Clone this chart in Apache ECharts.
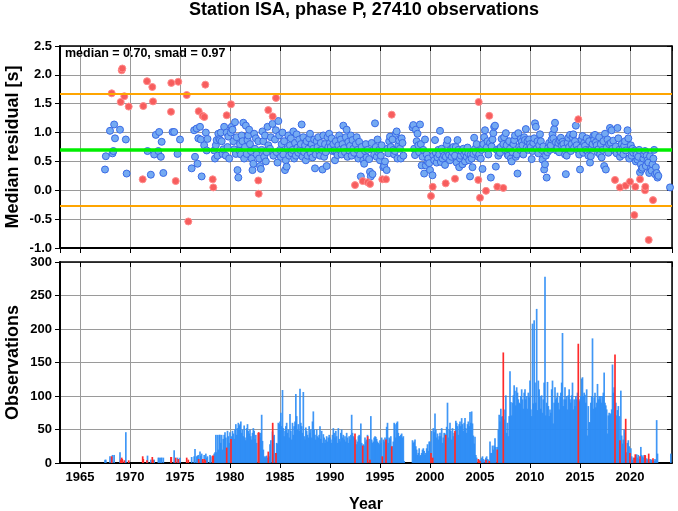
<!DOCTYPE html>
<html><head><meta charset="utf-8">
<script src="https://cdn.jsdelivr.net/npm/echarts@6/dist/echarts.min.js"></script>
<style>html,body{margin:0;padding:0;background:#fff}#c{width:678px;height:511px}</style>
</head><body><div id="c"></div>
<script>
const _ = null;
const titleText = 'Station ISA, phase P, 27410 observations';
const statsText = 'median = 0.70, smad = 0.97';
const medianValue = 0.70;
const smadValue = 0.97;
const firstYear = 1967;
const xMin = 1963, xMax = 2024.2;

// monthly median residuals (blue points), one row per year starting 1967
const residualRows = [
 [_,_,_,_,_,_,0.36,0.59,_,_,_,_],
 [1.03,_,_,0.64,0.68,1.14,0.90,_,_,_,_,_],
 [1.05,_,_,_,_,_,_,0.88,0.29,_,_,_],
 [_,_,_,_,_,_,_,_,_,_,_,_],
 [_,_,_,_,_,_,_,_,_,0.68,_,_],
 [_,0.27,_,_,_,0.62,_,0.96,_,_,0.68,1.01],
 [_,0.58,0.84,_,0.30,_,_,_,_,_,_,_],
 [_,_,_,1.01,_,1.01,_,_,_,0.63,_,_],
 [0.88,_,_,_,_,_,_,_,_,_,_,_],
 [_,_,0.38,_,_,1.04,0.58,_,1.07,0.46,0.90,_],
 [1.10,0.88,0.24,_,_,0.78,_,1.00,0.69,0.89,_,_],
 [_,_,_,_,_,0.69,0.55,0.78,0.87,0.60,0.98,0.89],
 [0.87,1.00,0.85,0.63,0.71,1.10,_,0.60,1.00,0.75,0.93,0.55],
 [_,1.00,1.10,1.05,0.85,0.71,1.18,0.63,0.92,0.35,0.22,0.69],
 [0.80,0.62,0.95,0.85,1.17,0.55,0.75,1.12,0.63,0.87,0.95,1.05],
 [0.80,0.68,0.55,0.35,0.46,0.98,0.72,0.90,0.62,_,0.85,0.55],
 [0.42,0.37,0.70,1.02,0.85,0.58,0.95,0.50,0.66,1.10,0.78,_],
 [0.72,0.92,_,1.15,0.60,_,0.88,1.04,0.66,0.48,1.20,0.95],
 [0.70,0.58,0.80,1.00,0.62,0.85,0.35,0.52,0.41,0.72,0.95,0.60],
 [0.78,0.90,0.64,0.70,1.02,0.55,0.82,0.60,0.97,0.74,0.65,0.88],
 [0.70,0.80,1.14,0.58,0.92,0.66,0.78,0.52,0.85,0.60,0.72,0.90],
 [0.98,0.64,0.80,0.57,0.72,0.88,0.38,0.62,0.85,0.75,0.92,0.68],
 [0.60,0.82,0.70,0.36,0.95,0.58,0.80,0.66,0.42,0.92,0.75,0.98],
 [0.82,0.75,0.90,0.68,0.80,0.69,0.52,0.85,0.65,0.61,0.78,0.95],
 [0.70,0.88,0.62,0.80,1.12,0.73,0.66,0.92,1.05,0.58,0.84,0.69],
 [0.77,0.95,0.60,0.87,0.72,0.65,_,0.80,0.92,0.70,0.55,0.84],
 [0.62,0.24,0.75,_,0.52,0.46,0.68,0.80,0.57,0.70,_,0.54],
 [0.32,0.24,0.82,0.28,0.70,0.62,1.16,0.75,0.58,0.88,0.66,0.70],
 [0.52,0.60,0.78,_,0.40,0.42,0.50,_,0.35,0.72,0.64,0.85],
 [0.93,0.75,_,0.88,0.70,0.62,0.68,0.98,1.02,0.55,0.78,0.86],
 [0.72,0.55,0.90,0.82,0.60,_,_,_,_,_,_,_],
 [_,_,_,1.09,1.13,0.72,0.61,1.05,0.85,0.98,0.78,0.66],
 [1.14,0.80,0.43,0.58,0.70,0.29,0.88,0.43,0.62,0.50,0.55,0.47],
 [0.35,_,_,0.26,0.60,0.52,0.87,0.65,0.48,0.57,0.70,0.62],
 [1.03,0.49,0.72,0.55,0.66,0.60,0.44,0.58,0.80,0.87,0.65,0.61],
 [0.52,0.70,0.58,0.66,0.75,_,0.60,0.75,0.48,0.87,0.70,0.40],
 [0.55,0.60,0.68,0.45,0.72,0.62,0.50,0.66,0.58,0.74,0.64,0.52],
 [0.24,0.62,0.55,0.40,0.63,0.91,0.72,0.66,0.80,_,0.58,0.62],
 [_,0.55,0.70,0.37,0.80,0.92,1.04,_,0.74,0.85,0.62,_],
 [0.82,0.22,0.76,0.88,0.99,1.10,1.12,0.41,0.70,_,0.60,0.72],
 [0.65,0.75,0.89,_,0.80,0.92,0.70,0.99,0.78,0.62,0.60,0.85],
 [0.72,0.55,0.50,0.66,0.80,0.87,0.95,0.58,0.62,0.29,0.99,0.75],
 [0.70,0.89,0.84,0.78,0.62,0.92,0.87,1.06,0.74,0.85,0.70,0.88],
 [0.80,0.75,0.54,0.68,0.82,0.90,1.16,1.10,0.72,0.85,0.64,0.78],
 [0.97,0.85,0.70,0.53,0.76,0.36,0.45,0.60,0.22,0.66,0.74,0.82],
 [0.70,0.78,0.88,0.97,0.90,1.06,1.17,0.83,0.69,0.75,0.82,0.66],
 [0.86,0.91,0.78,0.84,0.80,0.72,0.62,0.28,0.60,0.82,0.91,0.75],
 [0.96,0.68,0.80,0.92,0.97,0.74,0.85,1.12,0.78,0.70,_,0.62],
 [0.36,0.74,0.88,0.94,0.65,0.82,0.77,0.70,0.90,0.68,0.60,0.85],
 [0.48,0.59,0.72,0.80,0.94,0.88,0.96,0.83,0.78,0.66,0.71,0.92],
 [0.62,0.80,0.57,0.70,0.85,0.42,0.98,0.36,0.74,0.88,0.65,0.80],
 [1.08,0.82,1.04,0.72,0.86,_,0.68,0.76,0.64,1.08,0.90,0.70],
 [0.58,0.66,0.80,0.72,0.62,0.77,0.85,0.69,_,1.04,0.90,0.55],
 [_,0.78,0.60,0.72,0.65,_,0.69,0.50,0.62,0.53,0.58,0.70],
 [0.31,0.45,0.36,0.39,0.55,0.62,0.68,0.42,0.60,0.52,0.48,0.30],
 [0.59,0.38,0.34,0.45,0.55,0.70,0.28,0.40,0.30,0.22,0.25,_],
 [_,_,_,_,_,_,_,_,_,_,_,_],
 [0.05,_,_,_,_,_,_,_,_,_,_,_]
];

// monthly observation counts (blue bars), one row per year starting 1967
const countRows = [
 [0,0,0,0,0,0,5,5,0,0,0,0],
 [10,0,0,12,0,12,0,0,0,0,0,0],
 [16,0,0,0,0,0,0,46,0,0,0,0],
 [0,0,0,0,0,0,0,0,0,0,0,0],
 [0,0,0,0,0,0,0,0,0,11,0,0],
 [0,5,0,0,0,5,0,0,0,0,8,8],
 [0,8,8,0,8,0,0,0,0,0,0,0],
 [0,0,0,0,0,19,0,0,0,8,0,0],
 [8,0,0,0,0,0,0,0,0,0,0,0],
 [0,0,9,0,0,10,21,0,10,11,12,0],
 [17,11,14,0,0,12,0,14,8,10,0,0],
 [12,10,0,0,0,14,16,42,16,42,20,42],
 [42,30,42,20,36,42,46,38,0,48,40,30],
 [46,0,40,48,44,36,50,58,42,52,60,56],
 [58,62,45,50,40,56,38,34,52,58,48,44],
 [50,40,35,45,52,48,36,42,30,0,0,45],
 [38,45,72,33,20,10,8,10,11,8,0,10],
 [28,34,0,47,40,42,0,15,30,29,60,58],
 [62,75,55,109,52,40,48,55,60,45,50,38],
 [73,48,35,60,42,55,62,103,70,50,58,48],
 [111,60,55,45,106,40,35,53,48,42,38,55],
 [45,50,38,62,77,50,42,35,50,40,38,42],
 [55,36,48,30,43,38,30,35,40,32,38,42],
 [38,35,30,42,52,45,38,48,40,30,52,36],
 [32,45,50,38,42,35,40,32,45,38,30,40],
 [35,42,72,45,40,38,0,35,28,32,40,42],
 [40,59,30,0,28,26,38,32,35,42,0,36],
 [0,70,35,30,32,38,40,39,36,32,30,28],
 [34,30,38,0,35,32,38,0,54,60,30,38],
 [36,40,0,25,32,60,58,38,60,62,45,40],
 [40,42,44,38,40,3,0,0,0,0,0,0],
 [0,0,0,34,30,32,35,25,20,12,15,22],
 [10,12,15,20,22,18,12,15,22,28,18,32],
 [32,0,48,0,52,46,74,50,38,44,35,40],
 [45,40,52,30,38,45,44,0,54,90,38,50],
 [60,48,35,52,40,45,0,63,60,55,42,58],
 [62,55,67,58,48,60,67,52,45,58,62,55],
 [76,60,77,59,41,29,39,12,8,0,0,5],
 [0,5,8,10,6,0,5,8,10,6,5,0],
 [32,15,15,26,20,26,37,24,0,24,50,72],
 [62,81,69,70,0,65,80,101,45,60,40,70],
 [137,91,71,90,101,116,108,86,113,105,95,90],
 [88,100,110,95,81,105,110,95,100,81,105,98],
 [123,80,70,208,89,213,120,90,230,79,123,110],
 [100,81,101,75,95,120,278,71,90,121,85,70],
 [80,75,110,123,59,90,113,95,98,105,90,80],
 [100,105,120,194,85,95,113,95,100,80,101,110],
 [95,90,101,120,80,95,85,100,95,105,0,92],
 [95,100,126,128,100,105,102,90,110,41,85,61],
 [61,90,100,186,81,98,105,83,90,118,95,100],
 [95,100,90,100,105,135,90,86,80,44,71,75],
 [71,74,80,147,105,113,0,90,71,79,85,70],
 [0,108,41,29,35,50,45,0,16,30,34,25],
 [0,22,10,5,8,0,0,10,13,8,12,6],
 [0,24,12,10,8,12,0,0,7,5,6,0],
 [6,5,5,0,4,3,6,4,64,14,0,0],
 [0,0,0,0,0,0,0,0,0,0,0,0],
 [0,14,0,0,0,0,0,0,0,0,0,0]
];

// flagged months (red): decimal year, median residual, observation count
const flaggedYears = [1968.17,1969.07,1969.17,1969.23,1969.43,1969.87,1971.27,1971.33,1971.70,1972.23,1972.30,1974.10,1974.13,1974.57,1974.83,1975.67,1975.83,1976.87,1977.27,1977.43,1977.53,1978.27,1978.33,1979.67,1980.10,1982.83,1982.87,1983.83,1984.27,1984.60,1992.50,1993.27,1993.77,1994.00,1995.23,1995.60,1996.17,2000.10,2000.27,2001.57,2002.50,2004.83,2004.87,2005.00,2005.60,2005.93,2006.73,2007.33,2014.83,2018.50,2019.00,2019.57,2020.00,2020.43,2020.53,2021.00,2021.50,2021.53,2021.87,2022.30];
const flaggedResiduals = [1.68,1.53,2.08,2.11,1.63,1.45,0.19,1.46,1.89,1.79,1.54,1.36,1.86,0.16,1.88,1.65,-0.54,1.37,1.29,1.27,1.83,0.19,0.05,1.30,1.49,0.17,-0.06,1.39,1.28,1.60,0.09,0.16,0.14,0.11,0.19,0.19,1.31,-0.10,0.06,0.12,0.20,0.18,1.53,-0.13,-0.01,1.29,0.06,0.04,1.23,0.18,0.05,0.08,0.15,-0.43,0.06,0.19,0.00,0.06,-0.86,-0.17];
const flaggedCounts = [10,5,8,6,4,4,10,6,4,9,5,9,9,8,6,8,5,6,6,6,4,11,11,23,36,45,46,17,60,15,44,26,40,5,10,35,25,15,8,42,48,6,4,3,5,3,20,165,178,162,34,66,15,8,13,10,12,11,14,7];

const resData = [], cntData = [];
residualRows.forEach((row, yi) => row.forEach((v, m) => { if (v !== null) resData.push([firstYear + yi + m / 12, v]); }));
countRows.forEach((row, yi) => row.forEach((v, m) => { if (v > 0) cntData.push([firstYear + yi + m / 12, v]); }));
const redRes = flaggedYears.map((y, i) => [y, flaggedResiduals[i]]);
const redCnt = flaggedYears.map((y, i) => [y, flaggedCounts[i]]);

const FONT = 'Liberation Sans';
const lbl = { color: '#000', fontFamily: FONT, fontWeight: 'bold', fontSize: 13 };
const gridLine = { show: true, lineStyle: { color: '#9a9a9a', width: 1 } };
const mainLine = { show: true, onZero: false, lineStyle: { color: '#000', width: 2 } };
const edgeLine = { show: true, onZero: false, lineStyle: { color: '#000', width: 1.5 } };

function xAx(grid, pos, showLabels, name) {
  const main = (pos === 'bottom');
  return {
    type: 'value', gridIndex: grid, position: pos, min: xMin, max: xMax, splitNumber: 12,
    axisLine: main ? mainLine : edgeLine,
    axisTick: { show: true, inside: !main, length: 5, lineStyle: { color: '#000', width: 1 } },
    axisLabel: Object.assign({ show: showLabels, showMinLabel: false, showMaxLabel: false, margin: 8, formatter: v => String(v) }, lbl),
    splitLine: main ? gridLine : { show: false },
    name: name || '', nameLocation: 'middle', nameGap: 34, nameMoveOverlap: false,
    nameTextStyle: { color: '#000', fontFamily: FONT, fontWeight: 'bold', fontSize: 16 }
  };
}
function yAx(grid, pos, min, max, interval, name, fmt) {
  const main = (pos === 'left');
  return {
    type: 'value', gridIndex: grid, position: pos, min: min, max: max, interval: interval,
    axisLine: main ? mainLine : edgeLine,
    axisTick: { show: true, inside: !main, length: 5, lineStyle: { color: '#000', width: 1 } },
    axisLabel: Object.assign({ show: main, margin: 8, formatter: fmt }, lbl),
    splitLine: main ? gridLine : { show: false },
    name: name || '', nameLocation: 'middle', nameGap: 38, nameMoveOverlap: false,
    nameTextStyle: { color: '#000', fontFamily: FONT, fontWeight: 'bold', fontSize: 18 }
  };
}

const chart = echarts.init(document.getElementById('c'), null, { renderer: 'canvas' });
chart.setOption({
  animation: false,
  backgroundColor: '#fff',
  graphic: [
    { type: 'text', x: 364, y: 1, style: { text: titleText, font: 'bold 18px "Liberation Sans"', fill: '#000', align: 'center' } },
    { type: 'text', left: 65, top: 47, z: 100, style: { text: statsText, font: 'bold 12.5px "Liberation Sans"', fill: '#000' } }
  ],
  grid: [
    { left: 60, right: 6, top: 46, height: 202, containLabel: false, outerBoundsMode: 'none' },
    { left: 60, right: 6, top: 262, height: 201, containLabel: false, outerBoundsMode: 'none' }
  ],
  xAxis: [
    xAx(0, 'bottom', false),
    xAx(1, 'bottom', true, 'Year'),
    xAx(0, 'top', false),
    xAx(1, 'top', false)
  ],
  yAxis: [
    yAx(0, 'left', -1, 2.5, 0.5, 'Median residual [s]', v => v.toFixed(1)),
    yAx(1, 'left', 0, 300, 50, 'Observations', v => String(v)),
    yAx(0, 'right', -1, 2.5, 0.5),
    yAx(1, 'right', 0, 300, 50)
  ],
  series: [
    {
      type: 'scatter', xAxisIndex: 0, yAxisIndex: 0, data: [], z: 1, silent: true,
      markLine: {
        silent: true, symbol: 'none', label: { show: false }, animation: false,
        data: [
          { yAxis: medianValue + smadValue, lineStyle: { color: '#ffa500', width: 2, type: 'solid' } },
          { yAxis: medianValue - smadValue, lineStyle: { color: '#ffa500', width: 2, type: 'solid' } },
          { yAxis: medianValue, lineStyle: { color: '#00ee00', width: 3.5, type: 'solid' } }
        ]
      }
    },
    {
      type: 'scatter', xAxisIndex: 0, yAxisIndex: 0, data: resData, z: 3, symbolSize: 7,
      itemStyle: { color: '#74aaf2', borderColor: '#3a6ae6', borderWidth: 1, opacity: 1 }
    },
    {
      type: 'scatter', xAxisIndex: 0, yAxisIndex: 0, data: redRes, z: 4, symbolSize: 7,
      itemStyle: { color: '#f75d5d', borderColor: '#ff8a8a', borderWidth: 1, opacity: 1 }
    },
    {
      type: 'bar', xAxisIndex: 1, yAxisIndex: 1, data: cntData, barWidth: 1.7, barGap: '-100%', z: 3,
      itemStyle: { color: '#2b8cf5', opacity: 0.9 }
    },
    {
      type: 'bar', xAxisIndex: 1, yAxisIndex: 1, data: redCnt, barWidth: 1.7, barGap: '-100%', z: 4,
      itemStyle: { color: '#ff2a2a' }
    }
  ]
});
</script>
</body></html>
